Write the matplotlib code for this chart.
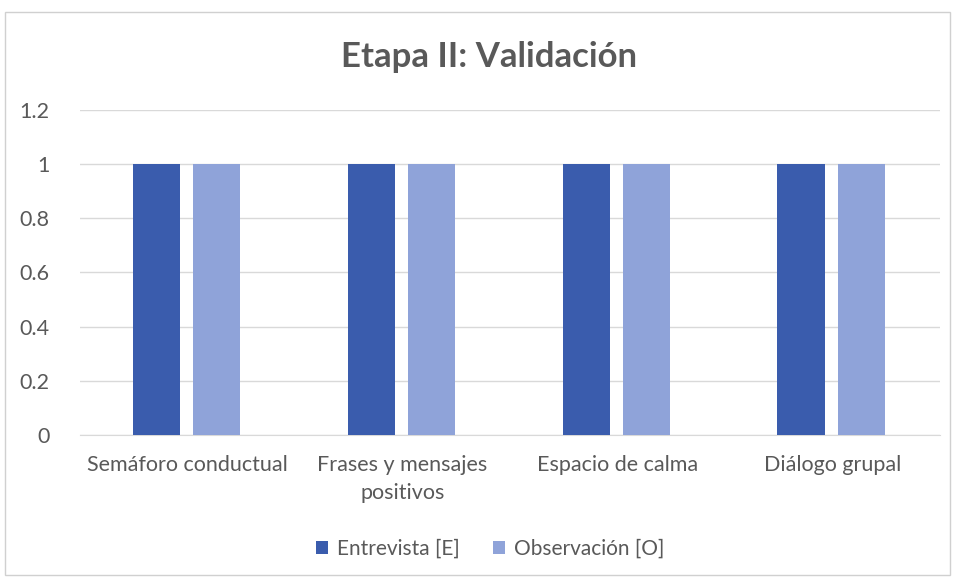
import numpy as np
import matplotlib.pyplot as plt
from matplotlib.patches import Rectangle

categories = ['Semáforo conductual', 'Frases y mensajes\npositivos',
              'Espacio de calma', 'Diálogo grupal']
entrevista = [1, 1, 1, 1]
observacion = [1, 1, 1, 1]
yticks = [0, 0.2, 0.4, 0.6, 0.8, 1, 1.2]
ytick_labels = ['0', '0.2', '0.4', '0.6', '0.8', '1', '1.2']

DARK, LIGHT = '#3a5cad', '#8fa3d9'
TEXT, GRID = '#595959', '#d9d9d9'

plt.rcParams.update({'font.family': ['Lato', 'DejaVu Sans'], 'font.size': 15.5})

fig = plt.figure(figsize=(9.55, 5.81), dpi=100)
fig.patches.append(Rectangle((0.005, 0.01), 0.99, 0.97, transform=fig.transFigure,
                             fill=False, edgecolor='#d0d0d0', lw=1))
ax = fig.add_axes([0.084, 0.251, 0.900, 0.560])

x = np.arange(len(categories))
w = 0.22
ax.bar(x - 0.145, entrevista, w, color=DARK, label='Entrevista [E]', zorder=3)
ax.bar(x + 0.135, observacion, w, color=LIGHT, label='Observación [O]', zorder=3)

ax.set_xlim(-0.5, len(categories) - 0.5)
ax.set_ylim(0, 1.2)
ax.set_yticks(yticks)
ax.set_yticklabels(ytick_labels)
ax.set_xticks(x)
ax.set_xticklabels(categories, linespacing=1.55)
ax.tick_params(axis='both', length=0, colors=TEXT, labelsize=15.5)
ax.tick_params(axis='y', pad=22)
ax.tick_params(axis='x', pad=14)
ax.grid(axis='y', color=GRID, lw=1, zorder=0)
for s in ['top', 'right', 'left']:
    ax.spines[s].set_visible(False)
ax.spines['bottom'].set_color(GRID)

fig.text(0.512, 0.902, 'Etapa II: Validación', ha='center', va='center',
         fontsize=25, fontweight='bold', color=TEXT)

fig.legend(loc='center', bbox_to_anchor=(0.513, 0.056), ncol=2, frameon=False,
           fontsize=15, labelcolor=TEXT, handlelength=0.6, handleheight=0.6,
           handletextpad=0.4, columnspacing=1.6)

fig.savefig('out.png', dpi=100, facecolor='white')
